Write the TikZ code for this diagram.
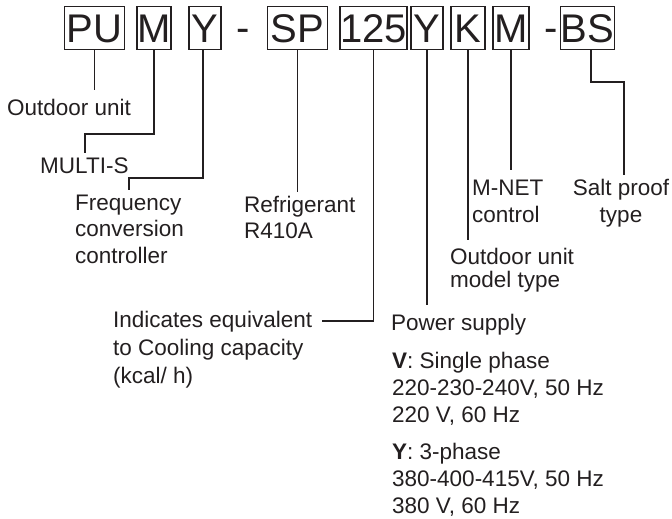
\documentclass[tikz,border=0pt]{standalone}
\usepackage{fontspec}
\setmainfont{Liberation Sans}
\definecolor{ink}{RGB}{35,31,32}
\begin{document}
\begin{tikzpicture}[x=1pt,y=-1pt,
  codebox/.style={draw=ink, line width=1.1pt, text=ink, font=\fontsize{40}{40}\selectfont,
    inner xsep=0pt, inner ysep=7pt, text height=28.6pt, text depth=0pt,
    minimum height=42.6pt, anchor=center},
  sep/.style={text=ink, font=\fontsize{40}{40}\selectfont, inner sep=0pt, anchor=base},
  lbl/.style={text=ink, font=\fontsize{22.5}{27}\selectfont, inner sep=0pt, anchor=base west, align=left},
  conn/.style={draw=ink, line width=1.1pt}]
\useasboundingbox (0,0) rectangle (672,519);

% code boxes
\node[codebox, minimum width=60pt] (pu) at (94.5,28) {PU};
\node[codebox, minimum width=34pt] (m1) at (154,28) {M};
\node[codebox, minimum width=32pt] (y1) at (205,28) {Y};
\node[sep] (d1) at (243,42) {-};
\node[codebox, minimum width=60pt] (sp) at (297.5,28) {SP};
\node[codebox, minimum width=67pt] (n125) at (373.5,28) {125};
\node[codebox, minimum width=32pt] (y2) at (427,28) {Y};
\node[codebox, minimum width=34pt] (k) at (468,28) {K};
\node[codebox, minimum width=36pt] (m2) at (511,28) {M};
\node[sep] (d2) at (551,42) {-};
\node[codebox, minimum width=53pt] (bs) at (587.5,28) {BS};

% labels (multi-line nodes are anchored at the baseline of their last line)
\node[lbl] (out) at (7,115) {Outdoor unit};
\node[lbl] (multi) at (40,173) {MULTI-S};
\node[lbl, font=\fontsize{22.5}{26.5}\selectfont] (freq) at (75,263) {Frequency\\conversion\\controller};
\node[lbl, font=\fontsize{22.5}{26}\selectfont] (refr) at (244,238) {Refrigerant\\R410A};
\node[lbl, font=\fontsize{22.5}{28}\selectfont] (ind) at (113,383) {Indicates equivalent\\to Cooling capacity\\(kcal/ h)};
\node[lbl] (pow) at (391,330) {Power supply};
\node[lbl] (pv) at (392,422) {\textbf{V}: Single phase\\220-230-240V, 50 Hz\\220 V, 60 Hz};
\node[lbl] (py) at (392,513) {\textbf{Y}: 3-phase\\380-400-415V, 50 Hz\\380 V, 60 Hz};
\node[lbl, font=\fontsize{22.5}{22.5}\selectfont] (oumt) at (450,287) {Outdoor unit\\model type};
\node[lbl] (mnet) at (472,222) {M-NET\\control};
\node[lbl, anchor=base, align=center] (salt) at (621,222) {Salt proof\\type};

% free ends of connectors
\coordinate (e1) at (94.5,90);
\coordinate (e2) at (85,153);
\coordinate (e3) at (129,190);
\coordinate (e4) at (297.5,192);
\coordinate (e5) at (322,321);
\coordinate (e6) at (427,305);
\coordinate (e7) at (468,240);
\coordinate (e8) at (511,170);
\coordinate (e9) at (624,175);

% connectors
\draw[conn] (pu.south) -- (e1);
\draw[conn] (m1.south) |- (e2 |- 0,134) -- (e2);
\draw[conn] ([xshift=-2pt]y1.south) |- (e3 |- 0,178) -- (e3);
\draw[conn] (sp.south) -- (e4);
\draw[conn] (n125.south) |- (e5);
\draw[conn] (y2.south) -- (e6);
\draw[conn] (k.south) -- (e7);
\draw[conn] (m2.south) -- (e8);
\draw[conn] ([xshift=3.5pt]bs.south) |- (e9 |- 0,82) -- (e9);
\end{tikzpicture}
\end{document}
